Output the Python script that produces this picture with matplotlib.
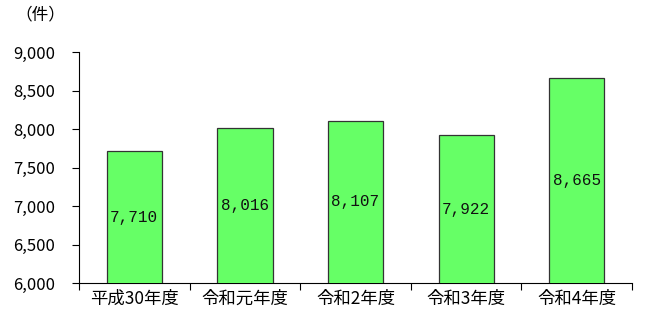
import matplotlib
matplotlib.use("Agg")
import matplotlib.pyplot as plt
from matplotlib.ticker import FuncFormatter, FixedLocator

plt.rcParams['font.family'] = ['Noto Sans CJK JP', 'DejaVu Sans']

categories = ["平成30年度", "令和元年度", "令和2年度", "令和3年度", "令和4年度"]
values = [7710, 8016, 8107, 7922, 8665]
y_ticks = [6000, 6500, 7000, 7500, 8000, 8500, 9000]

fig = plt.figure(figsize=(6.5, 3.28), dpi=100)
ax = fig.add_axes([0.1215, 0.137, 0.851, 0.7045])

x = range(len(categories))
ax.bar(x, values, width=0.5, color="#66FF66", edgecolor="#333333", linewidth=0.9, zorder=3)

for xi, v in zip(x, values):
    ax.text(xi, (6000 + v) / 2, f"{v:,}", ha="center", va="center",
            fontsize=11.5, family=["Liberation Mono", "DejaVu Sans Mono"], color="#111111", zorder=4)

ax.set_ylim(6000, 9000)
ax.set_xlim(-0.5, len(categories) - 0.5)
ax.yaxis.set_major_locator(FixedLocator(y_ticks))
ax.yaxis.set_major_formatter(FuncFormatter(lambda v, p: f"{int(v):,}"))

# category ticks sit on the boundaries between groups
ax.set_xticks([i - 0.5 for i in range(len(categories) + 1)])
ax.set_xticklabels([])
ax.set_xticks(list(x), minor=True)
ax.set_xticklabels(categories, minor=True)
ax.tick_params(axis="x", which="minor", length=0, pad=5, labelsize=12.5)
ax.tick_params(axis="x", which="major", length=5, direction="out", width=0.8)
ax.tick_params(axis="y", length=5, direction="out", width=0.8, pad=12, labelsize=12)

for side in ["top", "right"]:
    ax.spines[side].set_visible(False)
for side in ["left", "bottom"]:
    ax.spines[side].set_linewidth(0.8)
    ax.spines[side].set_color("#000000")

fig.text(0.062, 0.955, "（件）", ha="center", va="center", fontsize=12)

fig.savefig("out.png", dpi=100)
